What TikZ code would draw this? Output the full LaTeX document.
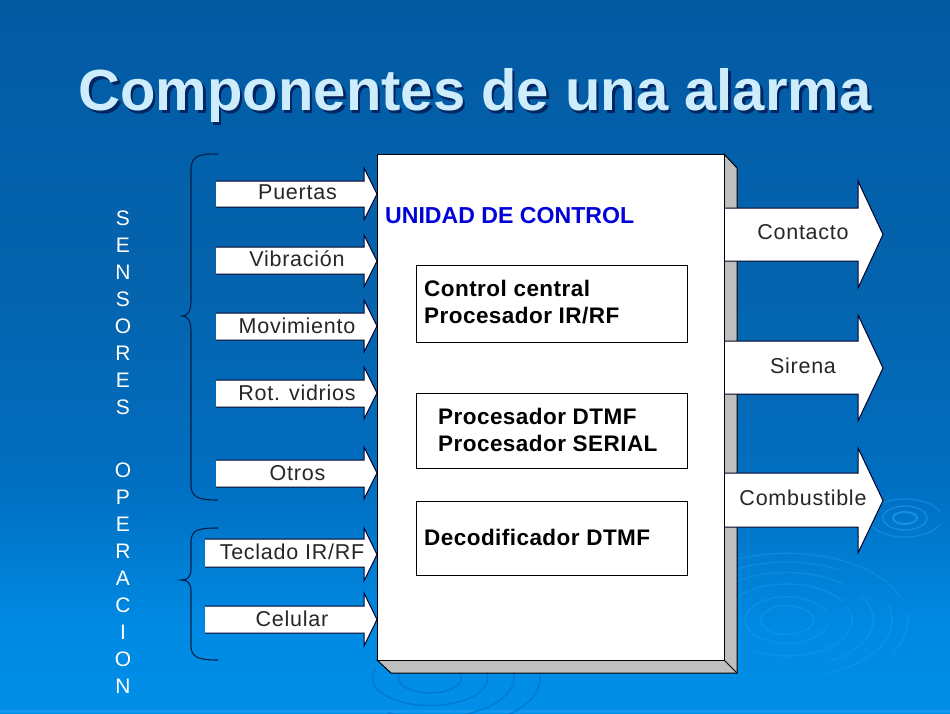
\documentclass[tikz,border=0pt]{standalone}
\usepackage{fontspec}
\setmainfont{Liberation Sans}
\usetikzlibrary{calc}
\definecolor{ripple}{RGB}{40,160,245}
\definecolor{rippledark}{RGB}{0,105,195}
\definecolor{titlecol}{RGB}{205,236,252}
\definecolor{bracecol}{RGB}{2,30,70}
\pgfdeclareverticalshading{bgshade}{100bp}{
  rgb(0bp)=(0,.56,.91);
  rgb(25bp)=(0,.56,.91);
  rgb(31bp)=(0,.54,.89);
  rgb(41.5bp)=(.0,.43,.75);
  rgb(55bp)=(.02,.39,.68);
  rgb(67bp)=(.01,.37,.66);
  rgb(75bp)=(.01,.35,.63);
  rgb(100bp)=(.01,.35,.63)}
\tikzset{
  x=1pt,y=-1pt,
  shaftout/.style={draw=black!85!blue,line width=1pt,line join=miter},
  lab/.style={font=\fontsize{21.5}{24}\selectfont\addfontfeature{LetterSpace=3.5},text=black!85,inner sep=0pt},
  boldlab/.style={font=\fontsize{22.5}{27}\bfseries\selectfont\addfontfeature{LetterSpace=2},text=black,inner sep=0pt,align=left,anchor=west},
  inbox/.style={draw=black,fill=white,line width=.9pt},
  rip/.style={draw=ripple,line width=1.4pt,opacity=.32},
  ripd/.style={draw=rippledark,line width=1.4pt,opacity=.55},
  bracestyle/.style={draw=bracecol,line width=1.1pt},
  sidetxt/.style={font=\fontsize{21}{26.9}\selectfont,text=white,align=center,inner sep=0pt,anchor=north},
}
\newcommand{\blockarrow}[8]{%
  \fill[white] (#2,#3) -- (#5,#3) -- (#5,#6) -- (#8,{(#6+#7)/2}) -- (#5,#7) -- (#5,#4) -- (#2,#4) -- cycle;
  \draw[shaftout] (#2,#3) -- (#5,#3) -- (#5,#6) -- (#8,{(#6+#7)/2}) -- (#5,#7) -- (#5,#4) -- (#2,#4);
  \coordinate (#1) at ({(#2+#5)/2},{(#6+#7)/2});
}
\begin{document}
\begin{tikzpicture}
\useasboundingbox (0,0) rectangle (950,713);
\shade[shading=bgshade] (0,0) rectangle (950,713);
\fill[ripple,opacity=.5] (0,710) rectangle (950,713);
% small ripple
\draw[rip,opacity=.6,line width=2pt] (905,518) ellipse (12 and 6);
\draw[rip,opacity=.5] (905,518) ellipse (22 and 12);
\draw[rip,opacity=.4] (905,518) ++(20:37 and 19) arc (20:160:37 and 19);
\draw[rip,opacity=.4] (905,518) ++(200:37 and 19) arc (200:340:37 and 19);
% large ripple
\foreach \r/\a/\b in {25/0/360,40/10/340,62/200/330,62/-20/120,82/190/310,82/-30/60,100/195/300,100/-15/70,115/210/340,115/-5/30}{
  \draw[rip] (787,620) ++(\a:{\r*1.05} and {\r*.58}) arc (\a:\b:{\r*1.05} and {\r*.58});
}
% bottom ripple, darker
\foreach \r/\a/\b in {30/0/360,55/-10/200,80/-10/120,105/-30/60}{
  \draw[ripd] (430,678) ++(\a:{\r*1.05} and {\r*.5}) arc (\a:\b:{\r*1.05} and {\r*.5});
}
% title
\node[font=\fontsize{58}{60}\bfseries\selectfont,text=black!80!blue,opacity=.6,inner sep=0pt] (titleshadow) at (477.5,98) {Componentes de una alarma};
\node[font=\fontsize{58}{60}\bfseries\selectfont,text=titlecol,inner sep=0pt] (title) at (475,95.5) {Componentes de una alarma};
% side text
\node[sidetxt] (sens) at (123,211) {S\\E\\N\\S\\O\\R\\E\\S};
\node[sidetxt] (oper) at (123,463) {O\\P\\E\\R\\A\\C\\I\\O\\N};
% braces
\draw[bracestyle] (218,154) .. controls (200,154) and (191,155) .. (191,170) -- (191,300) .. controls (191,312) and (188,316) .. (181,316) .. controls (188,316) and (191,320) .. (191,332) -- (191,485) .. controls (191,498) and (200,500) .. (218,500);
\draw[bracestyle] (218,528) .. controls (200,528) and (191,529) .. (191,542) -- (191,568) .. controls (191,577) and (188,580) .. (181,580) .. controls (188,580) and (191,583) .. (191,592) -- (191,646) .. controls (191,658) and (200,660) .. (218,660);
% main box with depth
\draw[fill=black!25,line width=1pt,line join=miter] (377,660) -- (724,154) -- (737,168) -- (737,673) -- (391,673) -- cycle;
\draw[line width=1pt] (724,660) -- (737,673);
\node[draw=black,fill=white,line width=1pt,minimum width=347pt,minimum height=506pt,inner sep=0pt,anchor=north west] (unit) at (377,154) {};
\node[font=\fontsize{23.1}{26}\bfseries\selectfont,text=blue!85!black,inner sep=0pt,anchor=west] (unidad) at (385,216) {UNIDAD DE CONTROL};
% inner boxes
\node[inbox,minimum width=271pt,minimum height=77pt,inner sep=0pt,anchor=north west] (b1) at (416,265) {};
\node[boldlab] (b1t) at (424,302) {Control central\\Procesador IR/RF};
\node[inbox,minimum width=271pt,minimum height=75pt,inner sep=0pt,anchor=north west] (b2) at (416,393) {};
\node[boldlab] (b2t) at (438,430) {Procesador DTMF\\Procesador SERIAL};
\node[inbox,minimum width=271pt,minimum height=74pt,inner sep=0pt,anchor=north west] (b3) at (416,501) {};
\node[boldlab] (b3t) at (424,537) {Decodificador DTMF};
% left arrows
\blockarrow{a1}{216}{181}{207}{364}{168}{220}{377}
\blockarrow{a2}{216}{247}{274}{364}{235}{287}{377}
\blockarrow{a3}{216}{313}{340}{364}{300}{352}{377}
\blockarrow{a4}{216}{380}{407}{364}{367}{419}{377}
\blockarrow{a5}{216}{460}{487}{364}{447}{499}{377}
\blockarrow{a6}{205}{539}{567}{364}{528}{581}{377}
\blockarrow{a7}{205}{606}{633}{364}{593}{646}{377}
\node[lab] (la1) at (297.5,192) {Puertas};
\node[lab] (la2) at (297,259) {Vibración};
\node[lab] (la3) at (297,326) {Movimiento};
\node[lab] (la4) at (297,393) {Rot. vidrios};
\node[lab] (la5) at (297.5,473) {Otros};
\node[lab] (la6) at (292,552) {Teclado IR/RF};
\node[lab] (la7) at (292,619) {Celular};
% right arrows
\blockarrow{r1}{725}{208}{261}{858}{181}{288}{883}
\blockarrow{r2}{725}{341}{394}{858}{315}{421}{883}
\blockarrow{r3}{725}{473}{527}{858}{448}{553}{883}
\node[lab] (lr1) at (803,232) {Contacto};
\node[lab] (lr2) at (803,366) {Sirena};
\node[lab] (lr3) at (803,498) {Combustible};
\end{tikzpicture}
\end{document}
